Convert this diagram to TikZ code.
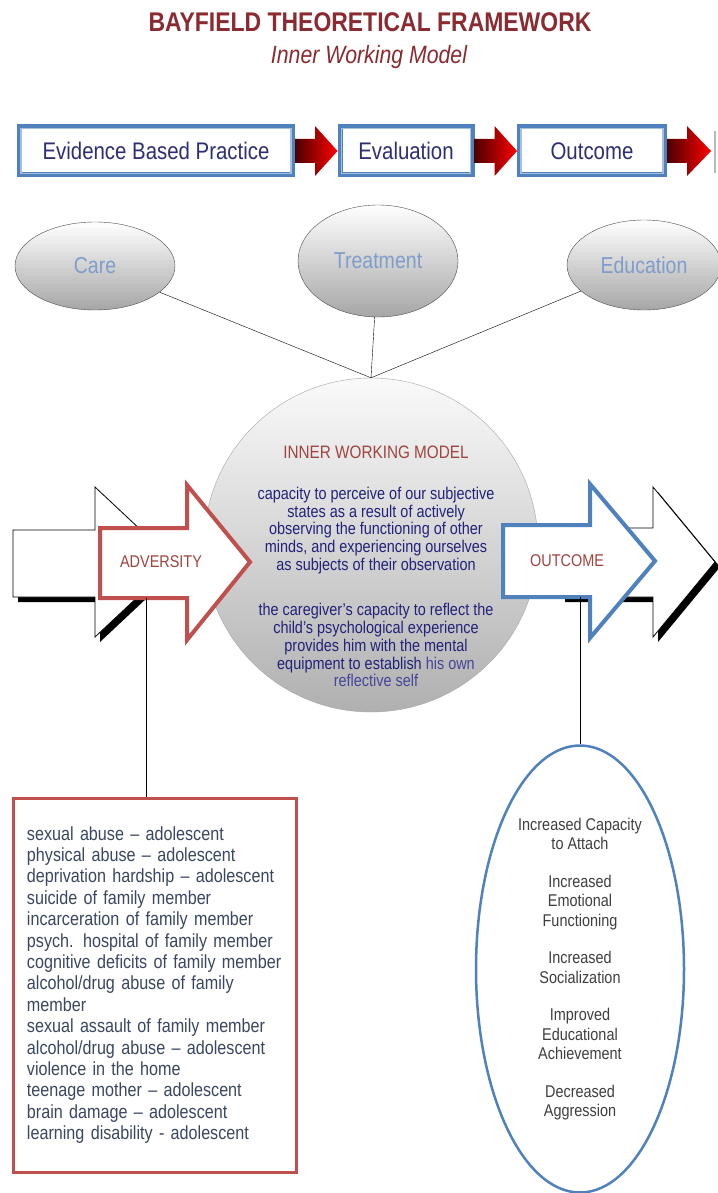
\documentclass[tikz,border=0pt]{standalone}
\usepackage{fontspec}
\setmainfont{Liberation Sans}[FakeStretch=0.85]
\usetikzlibrary{shapes.geometric, calc}

\definecolor{titlered}{HTML}{8B2A30}
\definecolor{boxblue}{HTML}{4F81BD}
\definecolor{lineblue}{HTML}{A7BFDE}
\definecolor{navy}{HTML}{2E2E74}
\definecolor{ballblue}{HTML}{7F9DCB}
\definecolor{modelred}{HTML}{A04440}
\definecolor{bodyblue}{HTML}{22227A}
\definecolor{softblue}{HTML}{45459A}
\definecolor{advred}{HTML}{C0504D}
\definecolor{listgray}{HTML}{3B4660}
\definecolor{outgray}{HTML}{3F3F3F}

\tikzset{
  stepbox/.style={draw=boxblue, line width=5pt, fill=white, minimum height=48pt,
    inner sep=0pt, text=navy, font=\fontsize{24}{28}\selectfont},
  innerline/.style={draw=lineblue, line width=1.2pt},
  redarrow/.style={left color=red!30!black, right color=red},
  topball/.style={ellipse, draw=gray!60!black, thin, top color=white,
    bottom color=gray!70, text=ballblue, font=\fontsize{23}{26}\selectfont},
  iwmball/.style={circle, draw=gray!70, thin, top color=gray!4, bottom color=gray!62,
    minimum size=334pt, inner sep=0pt},
  plainarrow/.style={draw=black, fill=white, line width=0.8pt, line join=miter},
  advarrow/.style={draw=advred, fill=white, line width=4pt, line join=miter},
  outarrow/.style={draw=boxblue, fill=white, line width=4pt, line join=miter},
  label/.style={font=\fontsize{17}{20}\selectfont, text=modelred},
  adbox/.style={draw=advred, line width=3pt, fill=white, text=listgray,
    text width=255pt, align=left, inner xsep=14pt, minimum width=283pt,
    minimum height=374pt, font=\fontsize{19}{21.4}\selectfont},
  outbox/.style={ellipse, draw=boxblue, line width=2.5pt, fill=white, text=outgray,
    align=center, inner sep=0pt, minimum width=208pt, minimum height=447pt,
    font=\fontsize{17}{19.5}\selectfont}
}

\begin{document}
\begin{tikzpicture}[x=1pt, y=-1pt]
\fill[white] (0,0) rectangle (717,1193);
\useasboundingbox (0,0) rectangle (717,1193);

% heading
\node[text=titlered, font=\bfseries\fontsize{27}{30}\selectfont] (title) at (370,22) {BAYFIELD THEORETICAL FRAMEWORK};
\node[text=titlered, font=\itshape\fontsize{25}{28}\selectfont] (subtitle) at (369,57) {Inner Working Model};

% process row
\coordinate (rowend) at (711,151);
\node[stepbox, minimum width=273pt] (ebp) at (156,151) {Evidence Based Practice};
\node[stepbox, minimum width=132pt] (eval) at (406,151) {Evaluation};
\node[stepbox, minimum width=145pt] (outc) at (592,151) {Outcome};

\foreach \s/\t in {ebp/eval, eval/outc, outc/rowend} {
  \shade[redarrow] ([yshift=12pt]\s.east) -- ([xshift=20pt,yshift=12pt]\s.east)
    -- ([xshift=20pt,yshift=25pt]\s.east) -- (\t.west |- \s.east)
    -- ([xshift=20pt,yshift=-25pt]\s.east) -- ([xshift=20pt,yshift=-12pt]\s.east)
    -- ([yshift=-12pt]\s.east) -- cycle;
}
\foreach \b in {ebp, eval, outc} {
  \draw[innerline] ([xshift=4pt,yshift=-4pt]\b.north west) rectangle ([xshift=-4pt,yshift=4pt]\b.south east);
}
\draw[gray!55, line width=1.5pt] (715,131) -- (715,173);

% care, treatment, education
\node[iwmball] (iwm) at (371,545) {};
\node[topball, minimum width=160pt, minimum height=88pt] (care) at (95,266) {Care};
\node[topball, minimum width=160pt, minimum height=112pt] (treat) at (378,261) {Treatment};
\node[topball, minimum width=154pt, minimum height=90pt] (edu) at (644,265) {Education};

\draw[thin] (care) -- (iwm.north);
\draw[thin] (treat) -- (iwm.north);
\draw[thin] (edu) -- (iwm.north);

% inner working model
\node[text=modelred, font=\fontsize{18}{21}\selectfont] (iwmtitle) at (376,452) {INNER WORKING MODEL};
\node[text=bodyblue, align=center, font=\fontsize{17}{17.7}\selectfont] (iwmtext) at (376,587)
  {capacity to perceive of our subjective\\states as a result of actively\\observing the functioning of other\\minds, and experiencing ourselves\\as subjects of their observation\\[28pt]the caregiver's capacity to reflect the\\child's psychological experience\\provides him with the mental\\equipment to establish {\color{softblue}his own}\\{\color{softblue}reflective self}};

% side arrows
\fill[black] (18,535) -- (100,535) -- (100,492) -- (180,567) -- (100,642) -- (100,602) -- (18,602) -- cycle;
\draw[plainarrow] (13,530) -- (95,530) -- (95,487) -- (175,562) -- (95,637) -- (95,597) -- (13,597) -- cycle;
\fill[black] (565,533) -- (658,533) -- (658,492) -- (720,567) -- (658,642) -- (658,602) -- (565,602) -- cycle;
\draw[plainarrow] (560,528) -- (653,528) -- (653,487) -- (715,562) -- (653,637) -- (653,597) -- (560,597) -- cycle;

\draw[advarrow] (100,528) -- (187,528) -- (187,485) -- (250,562) -- (187,640) -- (187,598) -- (100,598) -- cycle;
\node[label] (adv) at (161,562) {ADVERSITY};
\draw[outarrow] (503,525) -- (590,525) -- (590,484) -- (655,561) -- (590,638) -- (590,597) -- (503,597) -- cycle;
\node[label] (out) at (567,561) {OUTCOME};

% adversity list
\node[adbox] (adlist) at (154.5,985)
  {sexual abuse – adolescent\\physical abuse – adolescent\\deprivation hardship – adolescent\\suicide of family member\\incarceration of family member\\psych. hospital of family member\\cognitive deficits of family member\\alcohol/drug abuse of family\\member\\sexual assault of family member\\alcohol/drug abuse – adolescent\\violence in the home\\teenage mother – adolescent\\brain damage – adolescent\\learning disability - adolescent};
\coordinate (advfoot) at (146,598);
\draw[thin] (advfoot) -- (advfoot |- adlist.north);

% outcome list
\node[outbox] (outlist) at (580,969)
  {Increased Capacity\\to Attach\\[18pt]Increased\\Emotional\\Functioning\\[18pt]Increased\\Socialization\\[18pt]Improved\\Educational\\Achievement\\[18pt]Decreased\\Aggression};
\coordinate (outfoot) at (580,597);
\draw[thin] (outfoot) -- (outlist.north);

\end{tikzpicture}
\end{document}
